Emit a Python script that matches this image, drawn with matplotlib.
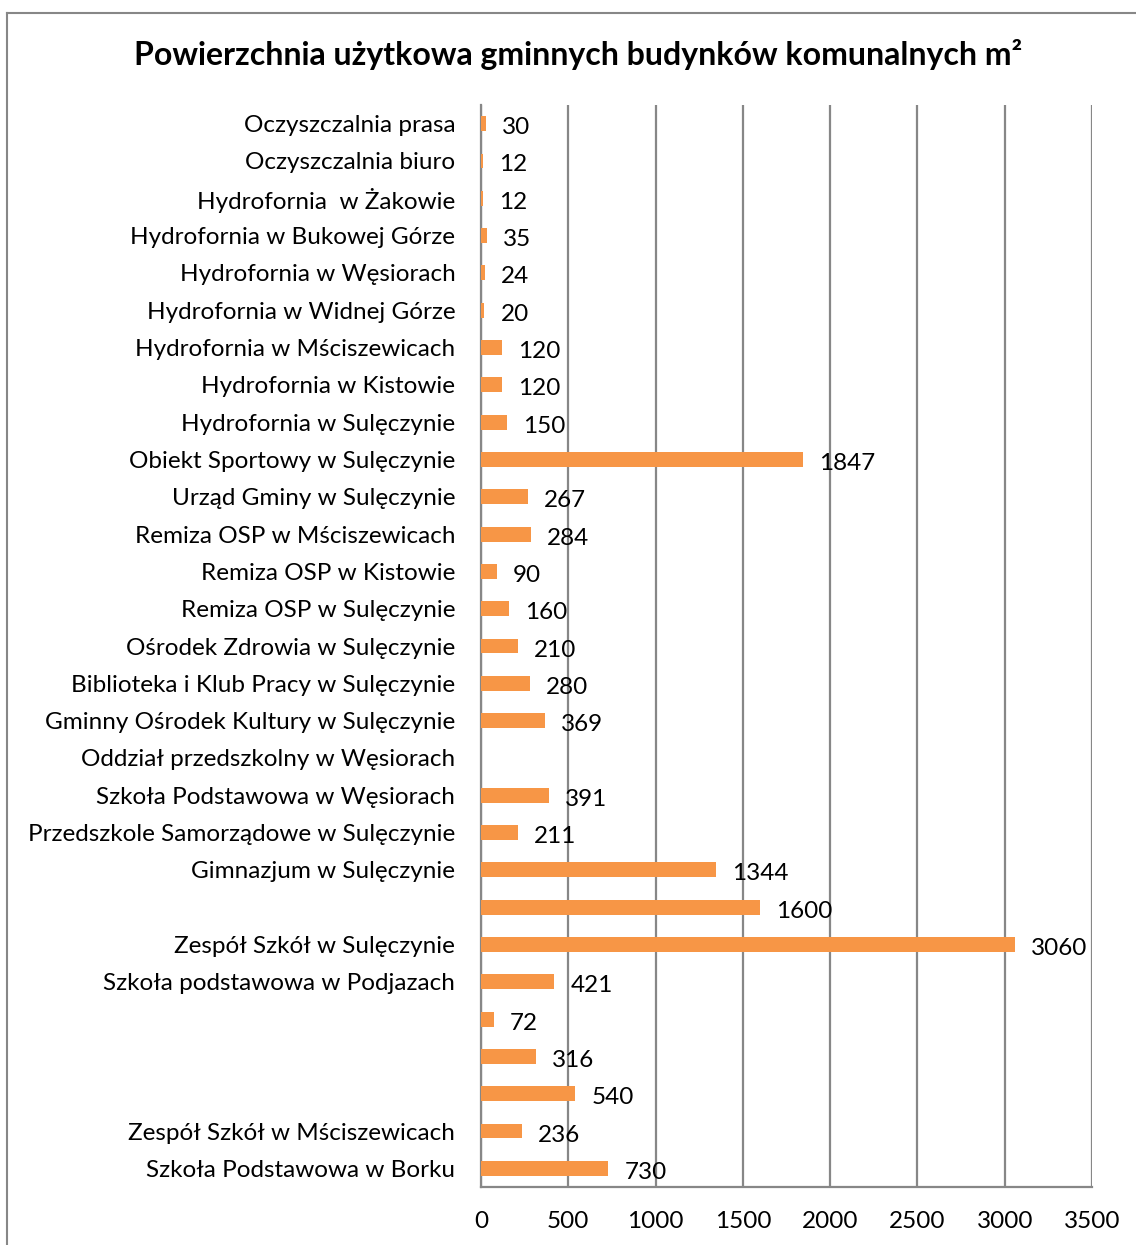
import matplotlib
matplotlib.use("Agg")
import matplotlib.pyplot as plt
from matplotlib.lines import Line2D

# categories from top to bottom as in the chart
labels = [
    "Oczyszczalnia prasa",
    "Oczyszczalnia biuro",
    "Hydrofornia  w Żakowie",
    "Hydrofornia w Bukowej Górze",
    "Hydrofornia w Węsiorach",
    "Hydrofornia w Widnej Górze",
    "Hydrofornia w Mściszewicach",
    "Hydrofornia w Kistowie",
    "Hydrofornia w Sulęczynie",
    "Obiekt Sportowy w Sulęczynie",
    "Urząd Gminy w Sulęczynie",
    "Remiza OSP w Mściszewicach",
    "Remiza OSP w Kistowie",
    "Remiza OSP w Sulęczynie",
    "Ośrodek Zdrowia w Sulęczynie",
    "Biblioteka i Klub Pracy w Sulęczynie",
    "Gminny Ośrodek Kultury w Sulęczynie",
    "Oddział przedszkolny w Węsiorach",
    "Szkoła Podstawowa w Węsiorach",
    "Przedszkole Samorządowe w Sulęczynie",
    "Gimnazjum w Sulęczynie",
    "",
    "Zespół Szkół w Sulęczynie",
    "Szkoła podstawowa w Podjazach",
    "",
    "",
    "",
    "Zespół Szkół w Mściszewicach",
    "Szkoła Podstawowa w Borku",
]
values = [30, 12, 12, 35, 24, 20, 120, 120, 150, 1847, 267, 284, 90, 160, 210,
          280, 369, None, 391, 211, 1344, 1600, 3060, 421, 72, 316, 540, 236, 730]
xticks = [0, 500, 1000, 1500, 2000, 2500, 3000, 3500]

title = "Powierzchnia użytkowa gminnych budynków komunalnych m²"

plt.rcParams['font.family'] = ['Lato', 'DejaVu Sans']
FS = 17.5

W, H = 1136, 1245
fig = plt.figure(figsize=(W / 100, H / 100), dpi=100)
ax = fig.add_axes([481 / W, 1 - 1187 / H, (1092 - 481) / W, (1187 - 105) / H])

n = len(labels)
ypos = list(range(n))
bar_vals = [v if v is not None else 0 for v in values]
ax.barh(ypos, bar_vals, height=0.4, color="#F79646", zorder=3)

for y, v in zip(ypos, values):
    if v is None:
        continue
    ax.annotate(str(v), (v, y), xytext=(16, -4), textcoords="offset pixels",
                ha="left", va="center", fontsize=FS, zorder=4)

ax.set_ylim(n - 0.5, -0.5)
ax.set_xlim(0, 3500)
ax.set_xticks(xticks)
ax.set_yticks(ypos)
ax.set_yticklabels(labels, fontsize=FS)
ax.tick_params(axis="both", length=0, labelsize=FS)
ax.tick_params(axis="y", pad=18.5)
ax.tick_params(axis="x", pad=17.5)
ax.grid(axis="x", color="#878787", lw=1.6, zorder=0)
for s in ["top", "right"]:
    ax.spines[s].set_visible(False)
for s in ["left", "bottom"]:
    ax.spines[s].set_color("#878787")
    ax.spines[s].set_linewidth(1.6)

fig.text(578 / W, 1 - 55 / H, title, ha="center", va="center",
         fontsize=23, fontweight="bold")

# outer chart frame (left and top edges visible)
fig.add_artist(Line2D([7 / W, 7 / W], [0, 1 - 13 / H], transform=fig.transFigure,
                      color="#878787", lw=1.5))
fig.add_artist(Line2D([7 / W, 1], [1 - 13 / H, 1 - 13 / H], transform=fig.transFigure,
                      color="#878787", lw=1.5))

fig.savefig("out.png", dpi=100)
